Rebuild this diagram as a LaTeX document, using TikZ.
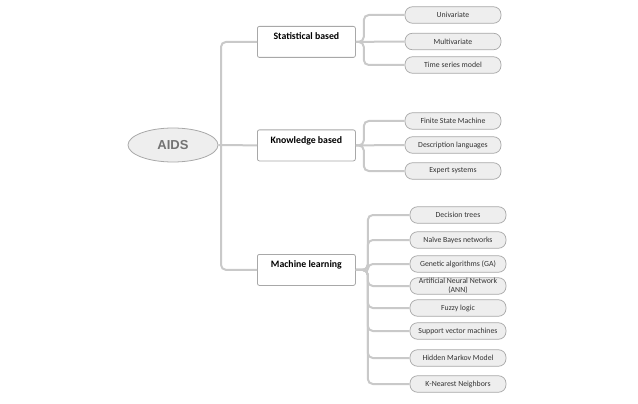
\documentclass[tikz,border=0pt]{standalone}
\usepackage{fontspec}
\setmainfont{Carlito}
\newfontfamily\headfont{Liberation Sans}
\usetikzlibrary{shapes.geometric}
\definecolor{linkgray}{HTML}{C9C9C9}
\definecolor{edgegray}{HTML}{A8A8A8}
\definecolor{leaffill}{HTML}{EEEEEE}
\begin{document}
\begin{tikzpicture}[x=1pt,y=-1pt,
  link/.style={draw=linkgray,line width=2pt,rounded corners=5pt},
  catbox/.style={draw=edgegray,fill=white,line width=0.8pt,rounded corners=2pt,
    anchor=north west,minimum width=98pt,inner ysep=0pt,
    text height=13.5pt,text depth=17.5pt,font=\fontsize{9.8}{11}\selectfont\bfseries},
  leaf/.style={draw=edgegray,fill=leaffill,line width=0.7pt,rounded corners=7.5pt,
    minimum width=96pt,minimum height=16.5pt,inner sep=0pt,align=center,
    text=black!80,font=\fontsize{7.8}{9}\selectfont}]
\useasboundingbox (0,0) rectangle (638,404);
% root
\node[ellipse,draw=edgegray,fill=leaffill,line width=0.8pt,minimum width=90pt,
  minimum height=34pt,inner sep=0pt,text=black!55,font=\headfont\fontsize{13}{15}\selectfont\bfseries]
  (aids) at (173,145) {AIDS};
% categories
\node[catbox] (stat) at (257,26) {Statistical based};
\node[catbox] (know) at (257,129.5) {Knowledge based};
\node[catbox] (ml) at (257,254) {Machine learning};
\coordinate (hub) at (221,145);
\draw[link] (aids.east) -- (know.west);
\draw[link] (hub) |- (stat.west);
\draw[link] (hub) |- (ml.west);
% statistical
\node[leaf] (uni) at (453,15) {Univariate};
\node[leaf] (multi) at (453,41.5) {Multivariate};
\node[leaf] (tsm) at (453,65) {Time series model};
\draw[link] (stat.east) -- (multi.west);
\draw[link] (stat.east) -- ++(8,0) |- (uni.west);
\draw[link] (stat.east) -- ++(8,0) |- (tsm.west);
% knowledge
\node[leaf] (fsm) at (453,121) {Finite State Machine};
\node[leaf] (desc) at (453,145) {Description languages};
\node[leaf] (expert) at (453,171) {Expert systems};
\draw[link] (know.east) -- (desc.west);
\draw[link] (know.east) -- ++(8,0) |- (fsm.west);
\draw[link] (know.east) -- ++(8,0) |- (expert.west);
% machine learning
\foreach \name/\y/\txt in {dt/215/Decision trees, nb/240/Naïve Bayes networks,
  ga/264/Genetic algorithms (GA), ann/286/{Artificial Neural Network\\(ANN)},
  fuzzy/308/Fuzzy logic, svm/331/Support vector machines,
  hmm/358/Hidden Markov Model, knn/384/K-Nearest Neighbors}
  \node[leaf] (\name) at (458,\y) {\txt};
\foreach \name in {dt,nb,ga,ann,fuzzy,svm,hmm,knn}
  \draw[link] (ml.east) -- ++(12,0) |- (\name.west);
\end{tikzpicture}
\end{document}
